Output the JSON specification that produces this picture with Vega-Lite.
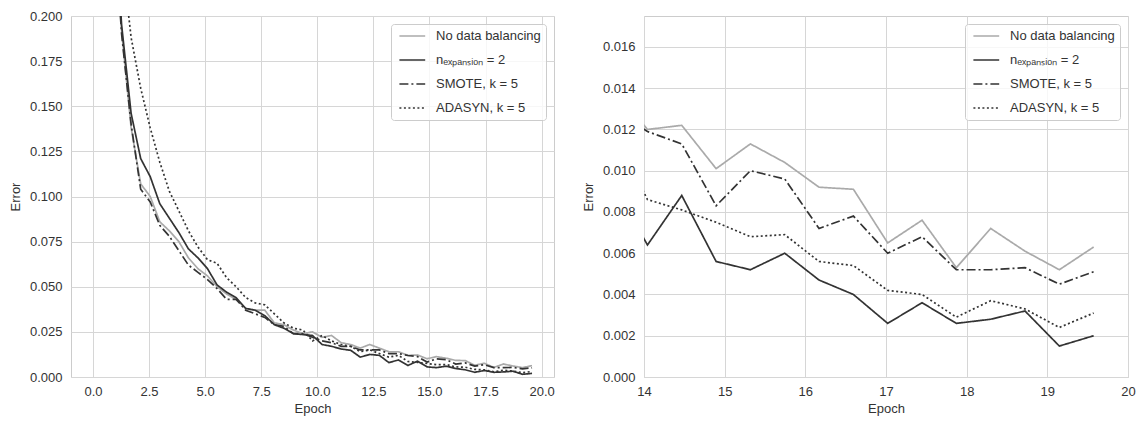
{
  "$schema": "https://vega.github.io/schema/vega-lite/v6.json",
  "background": "white",
  "padding": {"left": 8, "top": 9, "right": 5, "bottom": 5},
  "datasets": {
    "errors": [
      {"m": "No data balancing", "epoch": 0, "error": 0.85},
      {"m": "No data balancing", "epoch": 0.426, "error": 0.52},
      {"m": "No data balancing", "epoch": 0.851, "error": 0.27},
      {"m": "No data balancing", "epoch": 1.277, "error": 0.192},
      {"m": "No data balancing", "epoch": 1.702, "error": 0.138},
      {"m": "No data balancing", "epoch": 2.128, "error": 0.107},
      {"m": "No data balancing", "epoch": 2.553, "error": 0.1},
      {"m": "No data balancing", "epoch": 2.979, "error": 0.086},
      {"m": "No data balancing", "epoch": 3.404, "error": 0.081},
      {"m": "No data balancing", "epoch": 3.83, "error": 0.075},
      {"m": "No data balancing", "epoch": 4.255, "error": 0.066},
      {"m": "No data balancing", "epoch": 4.681, "error": 0.06},
      {"m": "No data balancing", "epoch": 5.106, "error": 0.056},
      {"m": "No data balancing", "epoch": 5.532, "error": 0.05},
      {"m": "No data balancing", "epoch": 5.957, "error": 0.046},
      {"m": "No data balancing", "epoch": 6.383, "error": 0.043},
      {"m": "No data balancing", "epoch": 6.809, "error": 0.038},
      {"m": "No data balancing", "epoch": 7.234, "error": 0.037},
      {"m": "No data balancing", "epoch": 7.66, "error": 0.037},
      {"m": "No data balancing", "epoch": 8.085, "error": 0.03},
      {"m": "No data balancing", "epoch": 8.511, "error": 0.029},
      {"m": "No data balancing", "epoch": 8.936, "error": 0.026},
      {"m": "No data balancing", "epoch": 9.362, "error": 0.024},
      {"m": "No data balancing", "epoch": 9.787, "error": 0.025},
      {"m": "No data balancing", "epoch": 10.213, "error": 0.022},
      {"m": "No data balancing", "epoch": 10.638, "error": 0.023},
      {"m": "No data balancing", "epoch": 11.064, "error": 0.019},
      {"m": "No data balancing", "epoch": 11.489, "error": 0.018},
      {"m": "No data balancing", "epoch": 11.915, "error": 0.016},
      {"m": "No data balancing", "epoch": 12.34, "error": 0.018},
      {"m": "No data balancing", "epoch": 12.766, "error": 0.016},
      {"m": "No data balancing", "epoch": 13.191, "error": 0.014},
      {"m": "No data balancing", "epoch": 13.617, "error": 0.014},
      {"m": "No data balancing", "epoch": 14.043, "error": 0.012},
      {"m": "No data balancing", "epoch": 14.468, "error": 0.0122},
      {"m": "No data balancing", "epoch": 14.894, "error": 0.0101},
      {"m": "No data balancing", "epoch": 15.319, "error": 0.0113},
      {"m": "No data balancing", "epoch": 15.745, "error": 0.0104},
      {"m": "No data balancing", "epoch": 16.17, "error": 0.0092},
      {"m": "No data balancing", "epoch": 16.596, "error": 0.0091},
      {"m": "No data balancing", "epoch": 17.021, "error": 0.0065},
      {"m": "No data balancing", "epoch": 17.447, "error": 0.0076},
      {"m": "No data balancing", "epoch": 17.872, "error": 0.0053},
      {"m": "No data balancing", "epoch": 18.298, "error": 0.0072},
      {"m": "No data balancing", "epoch": 18.723, "error": 0.0061},
      {"m": "No data balancing", "epoch": 19.149, "error": 0.0052},
      {"m": "No data balancing", "epoch": 19.574, "error": 0.0063},

      {"m": "nₑₓₚₐₙₛᵢₒₙ = 2", "epoch": 0, "error": 0.86},
      {"m": "nₑₓₚₐₙₛᵢₒₙ = 2", "epoch": 0.426, "error": 0.53},
      {"m": "nₑₓₚₐₙₛᵢₒₙ = 2", "epoch": 0.851, "error": 0.28},
      {"m": "nₑₓₚₐₙₛᵢₒₙ = 2", "epoch": 1.277, "error": 0.195},
      {"m": "nₑₓₚₐₙₛᵢₒₙ = 2", "epoch": 1.702, "error": 0.146},
      {"m": "nₑₓₚₐₙₛᵢₒₙ = 2", "epoch": 2.128, "error": 0.121},
      {"m": "nₑₓₚₐₙₛᵢₒₙ = 2", "epoch": 2.553, "error": 0.111},
      {"m": "nₑₓₚₐₙₛᵢₒₙ = 2", "epoch": 2.979, "error": 0.096},
      {"m": "nₑₓₚₐₙₛᵢₒₙ = 2", "epoch": 3.404, "error": 0.088},
      {"m": "nₑₓₚₐₙₛᵢₒₙ = 2", "epoch": 3.83, "error": 0.08},
      {"m": "nₑₓₚₐₙₛᵢₒₙ = 2", "epoch": 4.255, "error": 0.071},
      {"m": "nₑₓₚₐₙₛᵢₒₙ = 2", "epoch": 4.681, "error": 0.066},
      {"m": "nₑₓₚₐₙₛᵢₒₙ = 2", "epoch": 5.106, "error": 0.06},
      {"m": "nₑₓₚₐₙₛᵢₒₙ = 2", "epoch": 5.532, "error": 0.051},
      {"m": "nₑₓₚₐₙₛᵢₒₙ = 2", "epoch": 5.957, "error": 0.047},
      {"m": "nₑₓₚₐₙₛᵢₒₙ = 2", "epoch": 6.383, "error": 0.044},
      {"m": "nₑₓₚₐₙₛᵢₒₙ = 2", "epoch": 6.809, "error": 0.038},
      {"m": "nₑₓₚₐₙₛᵢₒₙ = 2", "epoch": 7.234, "error": 0.037},
      {"m": "nₑₓₚₐₙₛᵢₒₙ = 2", "epoch": 7.66, "error": 0.034},
      {"m": "nₑₓₚₐₙₛᵢₒₙ = 2", "epoch": 8.085, "error": 0.029},
      {"m": "nₑₓₚₐₙₛᵢₒₙ = 2", "epoch": 8.511, "error": 0.027},
      {"m": "nₑₓₚₐₙₛᵢₒₙ = 2", "epoch": 8.936, "error": 0.024},
      {"m": "nₑₓₚₐₙₛᵢₒₙ = 2", "epoch": 9.362, "error": 0.0235},
      {"m": "nₑₓₚₐₙₛᵢₒₙ = 2", "epoch": 9.787, "error": 0.023},
      {"m": "nₑₓₚₐₙₛᵢₒₙ = 2", "epoch": 10.213, "error": 0.018},
      {"m": "nₑₓₚₐₙₛᵢₒₙ = 2", "epoch": 10.638, "error": 0.017},
      {"m": "nₑₓₚₐₙₛᵢₒₙ = 2", "epoch": 11.064, "error": 0.0155},
      {"m": "nₑₓₚₐₙₛᵢₒₙ = 2", "epoch": 11.489, "error": 0.0148},
      {"m": "nₑₓₚₐₙₛᵢₒₙ = 2", "epoch": 11.915, "error": 0.011},
      {"m": "nₑₓₚₐₙₛᵢₒₙ = 2", "epoch": 12.34, "error": 0.0125},
      {"m": "nₑₓₚₐₙₛᵢₒₙ = 2", "epoch": 12.766, "error": 0.012},
      {"m": "nₑₓₚₐₙₛᵢₒₙ = 2", "epoch": 13.191, "error": 0.008},
      {"m": "nₑₓₚₐₙₛᵢₒₙ = 2", "epoch": 13.617, "error": 0.0094},
      {"m": "nₑₓₚₐₙₛᵢₒₙ = 2", "epoch": 14.043, "error": 0.0064},
      {"m": "nₑₓₚₐₙₛᵢₒₙ = 2", "epoch": 14.468, "error": 0.0088},
      {"m": "nₑₓₚₐₙₛᵢₒₙ = 2", "epoch": 14.894, "error": 0.0056},
      {"m": "nₑₓₚₐₙₛᵢₒₙ = 2", "epoch": 15.319, "error": 0.0052},
      {"m": "nₑₓₚₐₙₛᵢₒₙ = 2", "epoch": 15.745, "error": 0.006},
      {"m": "nₑₓₚₐₙₛᵢₒₙ = 2", "epoch": 16.17, "error": 0.0047},
      {"m": "nₑₓₚₐₙₛᵢₒₙ = 2", "epoch": 16.596, "error": 0.004},
      {"m": "nₑₓₚₐₙₛᵢₒₙ = 2", "epoch": 17.021, "error": 0.0026},
      {"m": "nₑₓₚₐₙₛᵢₒₙ = 2", "epoch": 17.447, "error": 0.0036},
      {"m": "nₑₓₚₐₙₛᵢₒₙ = 2", "epoch": 17.872, "error": 0.0026},
      {"m": "nₑₓₚₐₙₛᵢₒₙ = 2", "epoch": 18.298, "error": 0.0028},
      {"m": "nₑₓₚₐₙₛᵢₒₙ = 2", "epoch": 18.723, "error": 0.0032},
      {"m": "nₑₓₚₐₙₛᵢₒₙ = 2", "epoch": 19.149, "error": 0.0015},
      {"m": "nₑₓₚₐₙₛᵢₒₙ = 2", "epoch": 19.574, "error": 0.002},

      {"m": "SMOTE, k = 5", "epoch": 0, "error": 0.85},
      {"m": "SMOTE, k = 5", "epoch": 0.426, "error": 0.52},
      {"m": "SMOTE, k = 5", "epoch": 0.851, "error": 0.27},
      {"m": "SMOTE, k = 5", "epoch": 1.277, "error": 0.19},
      {"m": "SMOTE, k = 5", "epoch": 1.702, "error": 0.14},
      {"m": "SMOTE, k = 5", "epoch": 2.128, "error": 0.104},
      {"m": "SMOTE, k = 5", "epoch": 2.553, "error": 0.097},
      {"m": "SMOTE, k = 5", "epoch": 2.979, "error": 0.084},
      {"m": "SMOTE, k = 5", "epoch": 3.404, "error": 0.078},
      {"m": "SMOTE, k = 5", "epoch": 3.83, "error": 0.07},
      {"m": "SMOTE, k = 5", "epoch": 4.255, "error": 0.062},
      {"m": "SMOTE, k = 5", "epoch": 4.681, "error": 0.058},
      {"m": "SMOTE, k = 5", "epoch": 5.106, "error": 0.054},
      {"m": "SMOTE, k = 5", "epoch": 5.532, "error": 0.049},
      {"m": "SMOTE, k = 5", "epoch": 5.957, "error": 0.043},
      {"m": "SMOTE, k = 5", "epoch": 6.383, "error": 0.043},
      {"m": "SMOTE, k = 5", "epoch": 6.809, "error": 0.037},
      {"m": "SMOTE, k = 5", "epoch": 7.234, "error": 0.035},
      {"m": "SMOTE, k = 5", "epoch": 7.66, "error": 0.033},
      {"m": "SMOTE, k = 5", "epoch": 8.085, "error": 0.029},
      {"m": "SMOTE, k = 5", "epoch": 8.511, "error": 0.028},
      {"m": "SMOTE, k = 5", "epoch": 8.936, "error": 0.024},
      {"m": "SMOTE, k = 5", "epoch": 9.362, "error": 0.024},
      {"m": "SMOTE, k = 5", "epoch": 9.787, "error": 0.022},
      {"m": "SMOTE, k = 5", "epoch": 10.213, "error": 0.02},
      {"m": "SMOTE, k = 5", "epoch": 10.638, "error": 0.019},
      {"m": "SMOTE, k = 5", "epoch": 11.064, "error": 0.017},
      {"m": "SMOTE, k = 5", "epoch": 11.489, "error": 0.017},
      {"m": "SMOTE, k = 5", "epoch": 11.915, "error": 0.015},
      {"m": "SMOTE, k = 5", "epoch": 12.34, "error": 0.015},
      {"m": "SMOTE, k = 5", "epoch": 12.766, "error": 0.015},
      {"m": "SMOTE, k = 5", "epoch": 13.191, "error": 0.013},
      {"m": "SMOTE, k = 5", "epoch": 13.617, "error": 0.013},
      {"m": "SMOTE, k = 5", "epoch": 14.043, "error": 0.0119},
      {"m": "SMOTE, k = 5", "epoch": 14.468, "error": 0.0113},
      {"m": "SMOTE, k = 5", "epoch": 14.894, "error": 0.0083},
      {"m": "SMOTE, k = 5", "epoch": 15.319, "error": 0.01},
      {"m": "SMOTE, k = 5", "epoch": 15.745, "error": 0.0096},
      {"m": "SMOTE, k = 5", "epoch": 16.17, "error": 0.0072},
      {"m": "SMOTE, k = 5", "epoch": 16.596, "error": 0.0078},
      {"m": "SMOTE, k = 5", "epoch": 17.021, "error": 0.006},
      {"m": "SMOTE, k = 5", "epoch": 17.447, "error": 0.0068},
      {"m": "SMOTE, k = 5", "epoch": 17.872, "error": 0.0052},
      {"m": "SMOTE, k = 5", "epoch": 18.298, "error": 0.0052},
      {"m": "SMOTE, k = 5", "epoch": 18.723, "error": 0.0053},
      {"m": "SMOTE, k = 5", "epoch": 19.149, "error": 0.0045},
      {"m": "SMOTE, k = 5", "epoch": 19.574, "error": 0.0051},

      {"m": "ADASYN, k = 5", "epoch": 0, "error": 0.95},
      {"m": "ADASYN, k = 5", "epoch": 0.426, "error": 0.62},
      {"m": "ADASYN, k = 5", "epoch": 0.851, "error": 0.36},
      {"m": "ADASYN, k = 5", "epoch": 1.277, "error": 0.235},
      {"m": "ADASYN, k = 5", "epoch": 1.702, "error": 0.188},
      {"m": "ADASYN, k = 5", "epoch": 2.128, "error": 0.16},
      {"m": "ADASYN, k = 5", "epoch": 2.553, "error": 0.138},
      {"m": "ADASYN, k = 5", "epoch": 2.979, "error": 0.119},
      {"m": "ADASYN, k = 5", "epoch": 3.404, "error": 0.103},
      {"m": "ADASYN, k = 5", "epoch": 3.83, "error": 0.092},
      {"m": "ADASYN, k = 5", "epoch": 4.255, "error": 0.081},
      {"m": "ADASYN, k = 5", "epoch": 4.681, "error": 0.072},
      {"m": "ADASYN, k = 5", "epoch": 5.106, "error": 0.065},
      {"m": "ADASYN, k = 5", "epoch": 5.532, "error": 0.063},
      {"m": "ADASYN, k = 5", "epoch": 5.957, "error": 0.055},
      {"m": "ADASYN, k = 5", "epoch": 6.383, "error": 0.05},
      {"m": "ADASYN, k = 5", "epoch": 6.809, "error": 0.044},
      {"m": "ADASYN, k = 5", "epoch": 7.234, "error": 0.041},
      {"m": "ADASYN, k = 5", "epoch": 7.66, "error": 0.04},
      {"m": "ADASYN, k = 5", "epoch": 8.085, "error": 0.035},
      {"m": "ADASYN, k = 5", "epoch": 8.511, "error": 0.03},
      {"m": "ADASYN, k = 5", "epoch": 8.936, "error": 0.027},
      {"m": "ADASYN, k = 5", "epoch": 9.362, "error": 0.026},
      {"m": "ADASYN, k = 5", "epoch": 9.787, "error": 0.02},
      {"m": "ADASYN, k = 5", "epoch": 10.213, "error": 0.023},
      {"m": "ADASYN, k = 5", "epoch": 10.638, "error": 0.02},
      {"m": "ADASYN, k = 5", "epoch": 11.064, "error": 0.018},
      {"m": "ADASYN, k = 5", "epoch": 11.489, "error": 0.017},
      {"m": "ADASYN, k = 5", "epoch": 11.915, "error": 0.014},
      {"m": "ADASYN, k = 5", "epoch": 12.34, "error": 0.015},
      {"m": "ADASYN, k = 5", "epoch": 12.766, "error": 0.013},
      {"m": "ADASYN, k = 5", "epoch": 13.191, "error": 0.011},
      {"m": "ADASYN, k = 5", "epoch": 13.617, "error": 0.012},
      {"m": "ADASYN, k = 5", "epoch": 14.043, "error": 0.0086},
      {"m": "ADASYN, k = 5", "epoch": 14.468, "error": 0.0081},
      {"m": "ADASYN, k = 5", "epoch": 14.894, "error": 0.0075},
      {"m": "ADASYN, k = 5", "epoch": 15.319, "error": 0.0068},
      {"m": "ADASYN, k = 5", "epoch": 15.745, "error": 0.0069},
      {"m": "ADASYN, k = 5", "epoch": 16.17, "error": 0.0056},
      {"m": "ADASYN, k = 5", "epoch": 16.596, "error": 0.0054},
      {"m": "ADASYN, k = 5", "epoch": 17.021, "error": 0.0042},
      {"m": "ADASYN, k = 5", "epoch": 17.447, "error": 0.004},
      {"m": "ADASYN, k = 5", "epoch": 17.872, "error": 0.0029},
      {"m": "ADASYN, k = 5", "epoch": 18.298, "error": 0.0037},
      {"m": "ADASYN, k = 5", "epoch": 18.723, "error": 0.0033},
      {"m": "ADASYN, k = 5", "epoch": 19.149, "error": 0.0024},
      {"m": "ADASYN, k = 5", "epoch": 19.574, "error": 0.0031}
    ]
  },
  "spacing": 26,
  "hconcat": [
    {
      "width": 483,
      "height": 361,
      "data": {"name": "errors"},
      "mark": {"type": "line", "clip": true, "strokeWidth": 1.7},
      "encoding": {
        "x": {
          "field": "epoch", "type": "quantitative", "title": "Epoch",
          "scale": {"domain": [-0.979, 20.553], "nice": false, "zero": false},
          "axis": {"values": [0, 2.5, 5, 7.5, 10, 12.5, 15, 17.5, 20], "format": ".1f"}
        },
        "y": {
          "field": "error", "type": "quantitative", "title": "Error",
          "scale": {"domain": [0, 0.2], "nice": false},
          "axis": {"values": [0, 0.025, 0.05, 0.075, 0.1, 0.125, 0.15, 0.175, 0.2], "format": ".3f"}
        },
        "color": {
          "field": "m", "type": "nominal",
          "scale": {
            "domain": ["No data balancing", "nₑₓₚₐₙₛᵢₒₙ = 2", "SMOTE, k = 5", "ADASYN, k = 5"],
            "range": ["#aaaaaa", "#333333", "#333333", "#333333"]
          },
          "legend": {"title": null}
        },
        "strokeDash": {
          "field": "m", "type": "nominal",
          "scale": {
            "domain": ["No data balancing", "nₑₓₚₐₙₛᵢₒₙ = 2", "SMOTE, k = 5", "ADASYN, k = 5"],
            "range": [[1, 0], [1, 0], [9, 3, 2, 3], [2, 2.5]]
          },
          "legend": {"title": null}
        }
      }
    },
    {
      "width": 484,
      "height": 361,
      "data": {"name": "errors"},
      "transform": [{"filter": "datum.epoch >= 13.6"}],
      "mark": {"type": "line", "clip": true, "strokeWidth": 1.7},
      "encoding": {
        "x": {
          "field": "epoch", "type": "quantitative", "title": "Epoch",
          "scale": {"domain": [14, 20], "nice": false, "zero": false},
          "axis": {"values": [14, 15, 16, 17, 18, 19, 20], "format": "d"}
        },
        "y": {
          "field": "error", "type": "quantitative", "title": "Error",
          "scale": {"domain": [0, 0.0175], "nice": false},
          "axis": {"values": [0, 0.002, 0.004, 0.006, 0.008, 0.01, 0.012, 0.014, 0.016], "format": ".3f"}
        },
        "color": {
          "field": "m", "type": "nominal",
          "scale": {
            "domain": ["No data balancing", "nₑₓₚₐₙₛᵢₒₙ = 2", "SMOTE, k = 5", "ADASYN, k = 5"],
            "range": ["#aaaaaa", "#333333", "#333333", "#333333"]
          },
          "legend": {"title": null}
        },
        "strokeDash": {
          "field": "m", "type": "nominal",
          "scale": {
            "domain": ["No data balancing", "nₑₓₚₐₙₛᵢₒₙ = 2", "SMOTE, k = 5", "ADASYN, k = 5"],
            "range": [[1, 0], [1, 0], [9, 3, 2, 3], [2, 2.5]]
          },
          "legend": {"title": null}
        }
      }
    }
  ],
  "resolve": {
    "scale": {"color": "independent", "strokeDash": "independent"},
    "legend": {"color": "independent", "strokeDash": "independent"}
  },
  "config": {
    "font": "Liberation Sans",
    "view": {"stroke": "#cccccc", "strokeWidth": 1},
    "axis": {
      "domain": false,
      "ticks": false,
      "grid": true,
      "gridColor": "#d6d6d6",
      "gridWidth": 1,
      "labelFont": "Liberation Sans",
      "labelFontSize": 13,
      "labelColor": "#333333",
      "labelFlush": false,
      "labelOverlap": false,
      "titleFont": "Liberation Sans",
      "titleFontSize": 13,
      "titleFontWeight": "normal",
      "titleColor": "#333333"
    },
    "axisX": {"labelPadding": 8, "titlePadding": 4},
    "axisY": {"labelPadding": 9, "titlePadding": 7},
    "legend": {
      "orient": "top-right",
      "offset": 8,
      "padding": 5,
      "fillColor": "rgba(255,255,255,0.8)",
      "strokeColor": "#cccccc",
      "cornerRadius": 3,
      "labelFont": "Liberation Sans",
      "labelFontSize": 13,
      "labelColor": "#333333",
      "labelOffset": 26,
      "rowPadding": 10,
      "symbolType": "M-0.6,0H3.7",
      "symbolSize": 144,
      "symbolStrokeWidth": 1.7,
      "symbolFillColor": "transparent"
    }
  }
}
